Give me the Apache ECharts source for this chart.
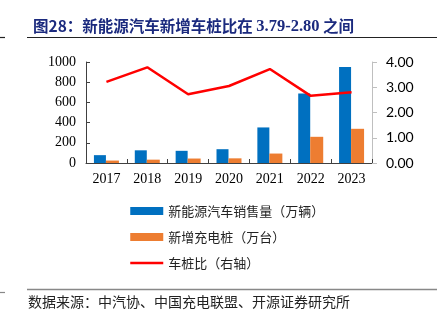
<!DOCTYPE html>
<html>
<head>
<meta charset="utf-8">
<script src="https://cdn.jsdelivr.net/npm/echarts@6/dist/echarts.min.js"></script>
<style>
  html, body { margin: 0; padding: 0; background: #fff; }
  #chart { width: 437px; height: 324px; }
</style>
</head>
<body>
<div id="chart"></div>
<script>
// Years on the category axis
const years = ['2017', '2018', '2019', '2020', '2021', '2022', '2023'];
// NEV sales, 10k vehicles
const evSales = [77.7, 125.6, 120.6, 136.7, 352.1, 688.7, 949.5];
// Newly added charging piles, 10k units
const newPiles = [24.2, 33.1, 44.3, 46.2, 93.6, 259.3, 338.6];
// Vehicle-to-pile ratio (right axis)
const ratio = [3.21, 3.79, 2.72, 3.05, 3.72, 2.66, 2.80];
// Axis tick values
const leftTicks = [0, 200, 400, 600, 800, 1000];
const rightTicks = [0, 1, 2, 3, 4];

const serif = '"Liberation Serif", "Noto Serif CJK SC", "Noto Sans CJK SC", serif';
const cjk = '"Noto Sans CJK SC", sans-serif';

const chart = echarts.init(document.getElementById('chart'), null, { renderer: 'canvas' });

chart.setOption({
  backgroundColor: '#ffffff',
  animation: false,
  title: {
    left: 28,
    top: 13,
    text: '{a|图28：新能源汽车新增车桩比在 }{b|3.79-2.80}{a| 之间}',
    textStyle: {
      rich: {
        a: { fontFamily: cjk, fontWeight: 'bold', fontSize: 15.5, color: '#1B2A7E' },
        b: { fontFamily: serif, fontWeight: 'bold', fontSize: 16.5, color: '#1B2A7E' }
      }
    }
  },
  graphic: [
    { type: 'line', shape: { x1: 27, y1: 37.5, x2: 437, y2: 37.5 }, style: { stroke: '#222', lineWidth: 1.2 } },
    { type: 'line', shape: { x1: 0, y1: 37.5, x2: 5, y2: 37.5 }, style: { stroke: '#222', lineWidth: 1.2 } },
    { type: 'line', shape: { x1: 27, y1: 289.5, x2: 437, y2: 289.5 }, style: { stroke: '#888', lineWidth: 1.5 } },
    { type: 'line', shape: { x1: 0, y1: 292.5, x2: 5, y2: 292.5 }, style: { stroke: '#888', lineWidth: 1.2 } },
    {
      type: 'text', left: 28, top: 295,
      style: { text: '数据来源：中汽协、中国充电联盟、开源证券研究所', font: '14px ' + cjk, fill: '#222' }
    }
  ],
  legend: {
    orient: 'vertical',
    left: 124,
    top: 198,
    itemWidth: 33,
    itemHeight: 8,
    itemGap: 10,
    textStyle: { fontFamily: cjk, fontSize: 13, color: '#222', lineHeight: 16 },
    data: [
      { name: '新能源汽车销售量（万辆）', icon: 'rect' },
      { name: '新增充电桩（万台）', icon: 'rect' },
      {
        name: '车桩比（右轴）',
        itemStyle: { opacity: 0 },
        lineStyle: { color: '#FF0000', width: 2.5, opacity: 1 }
      }
    ]
  },
  grid: { left: 86, right: 65, top: 62, bottom: 161 },
  xAxis: {
    type: 'category',
    data: years,
    axisLine: { lineStyle: { color: '#404040', width: 1 } },
    axisTick: { show: true, inside: true, length: 4, alignWithLabel: false, lineStyle: { color: '#404040' } },
    axisLabel: { fontFamily: serif, fontSize: 14, color: '#000', margin: 9 }
  },
  yAxis: [
    {
      type: 'value',
      min: leftTicks[0],
      max: leftTicks[leftTicks.length - 1],
      interval: 200,
      splitLine: { show: false },
      axisLine: { show: true, lineStyle: { color: '#404040' } },
      axisTick: { show: true, inside: true, length: 4, lineStyle: { color: '#404040' } },
      axisLabel: { fontFamily: serif, fontSize: 14, color: '#000', margin: 10, formatter: v => String(v) }
    },
    {
      type: 'value',
      min: rightTicks[0],
      max: rightTicks[rightTicks.length - 1],
      interval: 1,
      splitLine: { show: false },
      axisLine: { show: true, lineStyle: { color: '#BFBFBF' } },
      axisTick: { show: true, length: 5, lineStyle: { color: '#BFBFBF' } },
      axisLabel: {
        fontFamily: '"Lato", "Liberation Sans", sans-serif', fontSize: 14, color: '#000', margin: 14,
        formatter: v => v.toFixed(2)
      }
    }
  ],
  series: [
    {
      name: '新能源汽车销售量（万辆）',
      type: 'bar',
      data: evSales,
      barWidth: 12,
      barGap: '0%',
      itemStyle: { color: '#0070C0' }
    },
    {
      name: '新增充电桩（万台）',
      type: 'bar',
      data: newPiles,
      barWidth: 13,
      barGap: '0%',
      itemStyle: { color: '#ED7D31' }
    },
    {
      name: '车桩比（右轴）',
      type: 'line',
      yAxisIndex: 1,
      data: ratio,
      symbol: 'none',
      lineStyle: { color: '#FF0000', width: 2.5 },
      itemStyle: { color: '#FF0000' }
    }
  ]
});
</script>
</body>
</html>
